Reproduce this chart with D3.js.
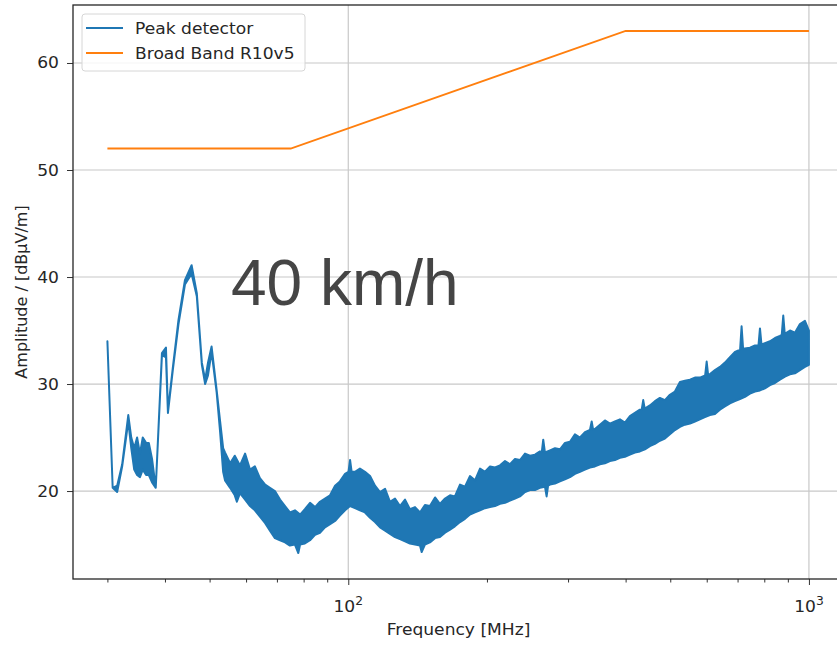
<!DOCTYPE html>
<html>
<head>
<meta charset="utf-8">
<script src="https://cdn.jsdelivr.net/npm/d3@7"></script>
<style>
  body { margin: 0; background: #fff; }
  svg { display: block; overflow: hidden; }
</style>
</head>
<body>
<div id="chart"></div>
<script>
const width = 837, height = 646;

// peak detector trace, read off as upper and lower edge of the noise band
// [frequency MHz, amplitude dBuV/m]
const upperEdge = [
  [30, 34.0], [30.8, 20.3], [31.5, 20.5], [32.3, 22.5], [33.3, 27.1], [33.8, 25.0], [34.3, 24.0], [34.8, 25.0], [35.3, 23.5], [35.8, 25.0],
  [36.4, 24.5], [36.9, 24.5], [37.5, 23.0], [38.2, 20.3], [39.4, 32.9], [40.2, 33.4], [40.6, 27.5], [41.6, 31.5], [42.8, 36.0], [44.2, 39.7],
  [45.7, 41.1], [46.9, 38.5], [48.1, 32.0], [48.9, 30.4], [49.6, 32.0], [50.5, 33.5], [51.8, 29.4], [52.7, 26.5], [53.5, 24.0],
  [54.0, 23.6], [55.4, 22.6], [56.7, 23.3], [58.2, 22.4], [59.7, 23.5], [61.2, 22.0], [62.7, 22.3], [64.3, 21.2], [66.0, 20.6], [67.6, 20.3],
  [69.3, 20.0], [71.1, 19.2], [72.9, 18.6], [74.7, 18.0], [76.6, 18.2], [78.6, 17.8], [80.5, 18.3], [82.6, 18.9], [84.7, 18.5], [86.8, 19.0],
  [89.0, 19.3], [91.3, 19.6], [93.6, 20.5], [95.9, 20.9], [98.4, 21.6], [100.1, 21.8], [100.9, 22.9], [101.7, 21.8], [103.4, 21.8], [106.0, 22.1],
  [108.7, 21.8], [111.5, 21.4], [114.3, 20.5], [117.2, 19.9], [120.2, 20.2], [123.2, 19.0], [126.3, 19.3], [129.5, 18.6], [132.8, 19.2], [136.1, 18.3],
  [139.6, 18.5], [143.1, 18.0], [146.7, 18.7], [150.4, 18.6], [154.3, 19.4], [158.1, 18.8], [162.2, 19.3], [166.3, 19.6], [170.4, 19.5], [174.8, 20.6],
  [179.2, 20.4], [183.7, 21.4], [188.4, 21.0], [193.2, 22.1], [198.1, 21.8], [203.1, 22.3], [208.2, 22.2], [213.5, 22.4], [218.9, 22.8], [224.4, 22.5],
  [230.1, 23.0], [235.9, 22.9], [241.9, 23.5], [248.0, 23.3], [254.3, 23.4], [260.7, 23.7], [263.0, 23.6], [265.0, 24.8], [267.3, 23.6], [274.1, 23.8],
  [281.0, 24.0], [288.1, 23.9], [295.4, 24.5], [302.9, 24.6], [310.5, 25.3], [318.4, 25.0], [326.4, 25.5], [334.7, 25.7], [337.6, 26.5], [340.1, 25.7],
  [343.1, 25.8], [351.8, 26.2], [360.7, 26.6], [369.8, 26.3], [379.2, 26.5], [388.8, 26.7], [398.6, 26.4], [408.7, 27.0], [419.0, 27.3], [429.6, 27.6],
  [433.5, 27.6], [436.8, 28.5], [440.1, 27.7], [451.6, 28.0], [463.1, 28.4], [474.8, 28.7], [486.8, 28.5], [499.1, 29.0], [511.8, 29.3], [524.8, 30.2],
  [538.0, 30.3], [551.7, 30.4], [565.6, 30.6], [579.9, 30.6], [595.3, 30.8], [599.8, 32.1], [604.3, 30.8], [625.1, 31.3], [640.9, 31.6], [657.1, 32.0],
  [673.8, 32.5], [690.9, 33.0], [708.9, 33.2], [714.2, 35.4], [719.6, 33.3], [744.7, 33.4], [763.6, 33.6], [777.0, 33.6], [782.9, 35.2], [788.8, 33.7],
  [823.1, 34.0], [843.9, 34.3], [865.0, 34.5], [873.0, 34.6], [879.6, 36.4], [886.2, 34.7], [909.5, 35.0], [932.4, 34.8], [956.0, 35.6], [980.2, 35.9],
  [1000, 35.0]
];

const lowerEdge = [
  [30, 34.0], [30.8, 20.3], [31.5, 19.9], [32.3, 22.3], [33.3, 26.5], [33.8, 24.0], [34.3, 22.0], [34.8, 21.5], [35.3, 21.3], [35.8, 22.0],
  [36.4, 21.5], [36.9, 21.5], [37.5, 20.8], [38.2, 20.3], [39.4, 32.7], [40.2, 32.5], [40.6, 27.3], [41.6, 31.3], [42.8, 35.6], [44.2, 39.3],
  [45.7, 40.3], [46.9, 38.2], [48.1, 31.8], [48.9, 30.0], [49.6, 30.8], [50.5, 33.0], [51.8, 29.2], [52.7, 25.5], [53.5, 21.8],
  [54.0, 21.0], [55.4, 20.3], [56.7, 19.6], [57.3, 19.0], [58.2, 19.8], [59.7, 19.2], [61.2, 18.6], [62.7, 18.2], [64.3, 17.6], [66.0, 17.0],
  [67.6, 16.3], [69.3, 15.6], [71.1, 15.4], [72.9, 15.2], [74.7, 14.9], [76.6, 15.0], [77.9, 14.2], [78.6, 15.0], [80.5, 15.1], [82.6, 15.4],
  [84.7, 15.9], [86.8, 16.1], [89.0, 16.6], [91.3, 16.9], [93.6, 17.2], [95.9, 17.7], [98.4, 18.2], [100.9, 18.6], [103.4, 18.4], [106.0, 18.2],
  [108.7, 18.0], [111.5, 17.5], [114.3, 17.1], [117.2, 16.6], [120.2, 16.3], [123.2, 16.0], [126.3, 15.7], [129.5, 15.5], [132.8, 15.3], [136.1, 15.1],
  [139.6, 15.0], [143.1, 14.9], [144.3, 14.3], [146.7, 15.0], [150.4, 15.2], [154.3, 15.6], [158.1, 15.7], [162.2, 16.1], [166.3, 16.4], [170.4, 16.7],
  [174.8, 17.1], [179.2, 17.4], [183.7, 17.8], [188.4, 18.0], [193.2, 18.2], [198.1, 18.4], [203.1, 18.5], [208.2, 18.6], [213.5, 18.8], [218.9, 18.9],
  [224.4, 19.1], [230.1, 19.3], [235.9, 19.5], [241.9, 19.9], [248.0, 20.1], [254.3, 20.1], [260.7, 20.3], [267.3, 20.4], [269.5, 19.5], [271.5, 20.5],
  [274.1, 20.6], [281.0, 20.7], [288.1, 20.9], [295.4, 21.1], [302.9, 21.3], [310.5, 21.6], [318.4, 21.8], [326.4, 22.0], [334.7, 22.2], [343.1, 22.3],
  [351.8, 22.5], [360.7, 22.6], [369.8, 22.8], [379.2, 22.9], [388.8, 23.1], [398.6, 23.2], [408.7, 23.4], [419.0, 23.6], [429.6, 23.7], [440.5, 23.9],
  [451.6, 24.2], [463.1, 24.4], [474.8, 24.7], [486.8, 24.9], [499.1, 25.3], [511.8, 25.7], [524.8, 26.0], [538.0, 26.2], [551.7, 26.3], [565.6, 26.5],
  [579.9, 26.7], [594.6, 26.9], [609.6, 27.1], [625.1, 27.2], [640.9, 27.6], [657.1, 27.9], [673.8, 28.2], [690.9, 28.4], [708.4, 28.6], [726.3, 28.8],
  [744.7, 29.1], [763.6, 29.3], [782.9, 29.4], [802.7, 29.6], [823.1, 29.9], [843.9, 30.1], [865.0, 30.4], [887.1, 30.7], [909.5, 30.9], [932.4, 31.0],
  [956.0, 31.3], [980.2, 31.6], [1000, 31.8]
];

// Broad Band R10v5 limit
const limitFreq = [30, 75, 400, 1000];
const limitAmp = [52, 52, 63, 63];

const yTicks = [20, 30, 40, 50, 60];
const xMajor = [100, 1000];
const xMinor = [30, 40, 50, 60, 70, 80, 90, 200, 300, 400, 500, 600, 700, 800, 900];

const mLeft = 73, mRight = 844, mTop = 5, mBottom = 579;
const font = "DejaVu Sans";
const sx = 1.07; // matplotlib picture is a bit stretched horizontally

const x = d3.scaleLog().domain([25.26, 1191.6]).range([mLeft, mRight]);
const y = d3.scaleLinear().domain([11.78, 65.42]).range([mBottom, mTop]);

const svg = d3.select("#chart").append("svg")
    .attr("width", width)
    .attr("height", height);

svg.append("defs").append("clipPath").attr("id", "plot")
    .append("rect")
    .attr("x", mLeft).attr("y", mTop)
    .attr("width", mRight - mLeft).attr("height", mBottom - mTop);

// grid
svg.append("g").selectAll("line")
    .data(yTicks).enter().append("line")
    .attr("x1", mLeft).attr("x2", mRight)
    .attr("y1", d => y(d)).attr("y2", d => y(d))
    .attr("stroke", "#c8c8c8").attr("stroke-width", 1.2);

svg.append("g").selectAll("line")
    .data(xMajor).enter().append("line")
    .attr("x1", d => x(d)).attr("x2", d => x(d))
    .attr("y1", mTop).attr("y2", mBottom)
    .attr("stroke", "#c8c8c8").attr("stroke-width", 1.2);

const plot = svg.append("g").attr("clip-path", "url(#plot)");

const line = d3.line()
    .x(d => x(d[0]))
    .y(d => y(d[1]));

plot.append("path")
    .attr("d", line(upperEdge.concat(lowerEdge.slice().reverse())) + "Z")
    .attr("fill", "#1f77b4")
    .attr("stroke", "#1f77b4")
    .attr("stroke-width", 2)
    .attr("stroke-linejoin", "round");

plot.append("path")
    .attr("d", line(limitFreq.map((f, i) => [f, limitAmp[i]])))
    .attr("fill", "none")
    .attr("stroke", "#ff7f0e")
    .attr("stroke-width", 2);

// annotation
svg.append("text")
    .attr("x", 231).attr("y", 305)
    .attr("font-family", "Liberation Sans, Arial, sans-serif")
    .attr("font-size", 64)
    .attr("fill", "#454545")
    .text("40 km/h");

// axes
svg.append("g")
    .attr("transform", `translate(${mLeft},0)`)
    .call(d3.axisLeft(y).tickValues(yTicks).tickSize(6).tickFormat(""));

svg.append("g")
    .attr("transform", `translate(0,${mBottom})`)
    .call(d3.axisBottom(x).tickValues(xMajor).tickSize(6).tickFormat(""));

svg.append("g")
    .attr("transform", `translate(0,${mBottom})`)
    .call(d3.axisBottom(x).tickValues(xMinor).tickSize(3.5).tickFormat(""));

svg.selectAll(".domain").remove();
svg.selectAll(".tick line").attr("stroke", "#333").attr("stroke-width", 1);

// spines
svg.append("rect")
    .attr("x", mLeft).attr("y", mTop)
    .attr("width", mRight - mLeft).attr("height", mBottom - mTop)
    .attr("fill", "none").attr("stroke", "#262626").attr("stroke-width", 1.3);

// y tick labels
svg.append("g").selectAll("text")
    .data(yTicks).enter().append("text")
    .attr("transform", d => `translate(59,${y(d) + 5.5}) scale(${sx},1)`)
    .attr("text-anchor", "end")
    .attr("font-family", font).attr("font-size", 16).attr("fill", "#262626")
    .text(d => d);

// x tick labels 10^n
const xl = svg.append("g").selectAll("text")
    .data(xMajor).enter().append("text")
    .attr("transform", d => `translate(${x(d)},612) scale(${sx},1)`)
    .attr("text-anchor", "middle")
    .attr("font-family", font).attr("font-size", 16).attr("fill", "#262626");
xl.append("tspan").text("10");
xl.append("tspan").attr("dy", -7).attr("font-size", 11.5).text(d => Math.round(Math.log10(d)));

// axis labels
svg.append("text")
    .attr("transform", `translate(${(mLeft + mRight) / 2},635) scale(${sx},1)`)
    .attr("text-anchor", "middle")
    .attr("font-family", font).attr("font-size", 16).attr("fill", "#262626")
    .text("Frequency [MHz]");

svg.append("text")
    .attr("transform", `translate(27,${(mTop + mBottom) / 2}) rotate(-90)`)
    .attr("text-anchor", "middle")
    .attr("font-family", font).attr("font-size", 16).attr("fill", "#262626")
    .text("Amplitude / [dBµV/m]");

// legend
const legendData = [
    { label: "Peak detector", color: "#1f77b4" },
    { label: "Broad Band R10v5", color: "#ff7f0e" }
];

svg.append("rect")
    .attr("x", 82).attr("y", 14)
    .attr("width", 223).attr("height", 57)
    .attr("rx", 3)
    .attr("fill", "#fff").attr("fill-opacity", 0.8)
    .attr("stroke", "#d6d6d6");

const legend = svg.selectAll(".legend")
    .data(legendData)
    .enter().append("g")
    .attr("class", "legend")
    .attr("transform", (d, i) => `translate(0,${28 + i * 25})`);

legend.append("line")
    .attr("x1", 86).attr("x2", 123)
    .attr("stroke", d => d.color)
    .attr("stroke-width", 2);

legend.append("text")
    .attr("transform", `translate(135,5.5) scale(${sx},1)`)
    .attr("font-family", font).attr("font-size", 16).attr("fill", "#262626")
    .text(d => d.label);
</script>
</body>
</html>
